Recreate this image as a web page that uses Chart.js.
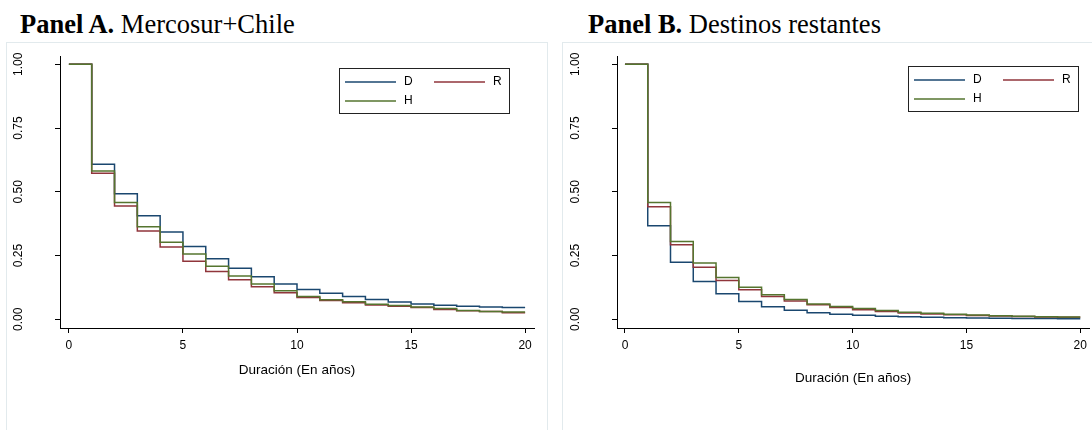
<!DOCTYPE html>
<html>
<head>
<meta charset="utf-8">
<script src="https://cdn.jsdelivr.net/npm/chart.js@4/dist/chart.umd.min.js"></script>
<style>
  body { margin: 0; background: #fff; width: 1092px; height: 430px; overflow: hidden; position: relative; }
  .frame { position: absolute; border: 1px solid #e2eaed; }
  .title { position: absolute; top: 11px; font: 26.5px/26px 'Liberation Serif', 'Times New Roman', serif; color: #000; white-space: nowrap; }
  canvas { position: absolute; top: 0; }
</style>
</head>
<body>
<div class="frame" style="left:6px; top:42px; width:540px; height:400px"></div>
<div class="frame" style="left:562px; top:42px; width:600px; height:400px"></div>
<div class="title" style="left:20px"><b>Panel A.</b> Mercosur+Chile</div>
<div class="title" style="left:588px"><b>Panel B.</b> Destinos restantes</div>
<canvas id="panelA" width="555" height="430" style="left:0"></canvas>
<canvas id="panelB" width="537" height="430" style="left:555px"></canvas>
<script>
// años de duración (0..20) y ticks
const years = [0, 1, 2, 3, 4, 5, 6, 7, 8, 9, 10, 11, 12, 13, 14, 15, 16, 17, 18, 19, 20]
const xTicks = [0, 5, 10, 15, 20]
const yTicks = [0, 0.25, 0.5, 0.75, 1]
const seriesNames = ['D', 'R', 'H']
const seriesColors = ['#1a476f', '#90353b', '#55752f']
const xTitle = 'Duración (En años)'

// Panel A: Mercosur+Chile
const mercoD = [1, 0.608, 0.492, 0.406, 0.342, 0.286, 0.238, 0.200, 0.167, 0.139, 0.117, 0.102, 0.090, 0.078, 0.068, 0.060, 0.055, 0.051, 0.048, 0.046, 0.046]
const mercoR = [1, 0.573, 0.444, 0.346, 0.284, 0.228, 0.188, 0.155, 0.128, 0.104, 0.086, 0.074, 0.065, 0.056, 0.051, 0.046, 0.039, 0.034, 0.031, 0.026, 0.026]
const mercoH = [1, 0.582, 0.458, 0.363, 0.302, 0.256, 0.208, 0.170, 0.139, 0.112, 0.090, 0.077, 0.069, 0.059, 0.054, 0.048, 0.042, 0.035, 0.031, 0.029, 0.029]

// Panel B: Destinos restantes
const restD = [1, 0.367, 0.224, 0.148, 0.100, 0.070, 0.049, 0.036, 0.026, 0.020, 0.016, 0.012, 0.010, 0.008, 0.006, 0.005, 0.004, 0.003, 0.003, 0.002, 0.002]
const restR = [1, 0.441, 0.292, 0.204, 0.152, 0.116, 0.090, 0.072, 0.057, 0.046, 0.038, 0.031, 0.025, 0.021, 0.018, 0.015, 0.013, 0.011, 0.009, 0.008, 0.008]
const restH = [1, 0.458, 0.305, 0.221, 0.164, 0.126, 0.096, 0.078, 0.060, 0.050, 0.042, 0.035, 0.028, 0.024, 0.020, 0.017, 0.014, 0.012, 0.010, 0.009, 0.009]

Chart.defaults.font.family = "'Liberation Sans', Arial, sans-serif"
Chart.defaults.color = '#000'

// leyenda con recuadro, estilo Stata
const boxLegend = {
  id: 'boxLegend',
  afterDatasetsDraw(chart, args, opts) {
    const { ctx, chartArea } = chart
    const w = 170, h = 45
    const left = Math.round(chartArea.right - opts.right - w)
    const top = Math.round(chartArea.top + opts.top)
    const slots = [[6, 14], [95, 14], [6, 33]]
    ctx.save()
    ctx.fillStyle = '#fff'
    ctx.fillRect(left, top, w, h)
    ctx.strokeStyle = '#222'
    ctx.lineWidth = 1
    ctx.strokeRect(left + 0.5, top + 0.5, w, h)
    ctx.font = "12px 'Liberation Sans', Arial, sans-serif"
    ctx.textBaseline = 'middle'
    chart.data.datasets.forEach((ds, i) => {
      const [dx, dy] = slots[i]
      ctx.strokeStyle = ds.borderColor
      ctx.lineWidth = 1.5
      ctx.beginPath()
      ctx.moveTo(left + dx, top + dy)
      ctx.lineTo(left + dx + 51, top + dy)
      ctx.stroke()
      ctx.fillStyle = '#000'
      ctx.fillText(ds.label, left + dx + 59, top + dy)
    })
    ctx.restore()
  }
}

function makeChart(id, values, o) {
  const datasets = values.map((vals, i) => ({
    label: seriesNames[i],
    data: years.map((t, k) => ({ x: t, y: vals[k] })),
    borderColor: seriesColors[i],
    borderWidth: 1.5,
    pointRadius: 0,
    stepped: true,
    fill: false,
    order: values.length - i
  }))

  return new Chart(document.getElementById(id), {
    type: 'line',
    data: { datasets },
    options: {
      responsive: false,
      animation: false,
      layout: { padding: { top: 56, right: o.padRight, left: 0, bottom: 0 } },
      plugins: {
        legend: { display: false },
        tooltip: { enabled: false },
        boxLegend: o.legend
      },
      scales: {
        x: {
          type: 'linear',
          min: o.xMin,
          max: o.xMax,
          afterBuildTicks: s => { s.ticks = xTicks.map(v => ({ value: v })) },
          afterFit: s => { s.height = 102 },
          grid: { drawOnChartArea: false, tickLength: 5, color: '#000' },
          border: { color: '#000' },
          ticks: { font: { size: 12 }, padding: 5, maxRotation: 0, callback: v => String(v) },
          title: { display: true, text: xTitle, font: { size: 13.5 }, padding: { top: 0, bottom: o.titleBottom } }
        },
        y: {
          min: -0.034,
          max: 1.0325,
          afterBuildTicks: s => { s.ticks = yTicks.map(v => ({ value: v })) },
          afterFit: s => { s.width = o.yWidth },
          grid: { drawOnChartArea: false, tickLength: 5, color: '#000' },
          border: { color: '#000' },
          ticks: { font: { size: 12 }, minRotation: 90, maxRotation: 90, crossAlign: 'center', padding: o.yPad, callback: v => v.toFixed(2) }
        }
      }
    },
    plugins: [boxLegend]
  })
}

makeChart('panelA', [mercoD, mercoR, mercoH], {
  padRight: 21, yWidth: 60, yPad: 24.5, xMin: -0.39, xMax: 20.39, titleBottom: 52,
  legend: { right: 25, top: 12 }
})

makeChart('panelB', [restD, restR, restH], {
  padRight: 2, yWidth: 62, yPad: 24.5, xMin: -0.35, xMax: 20.39, titleBottom: 44,
  legend: { right: 11, top: 10 }
})
</script>
</body>
</html>
